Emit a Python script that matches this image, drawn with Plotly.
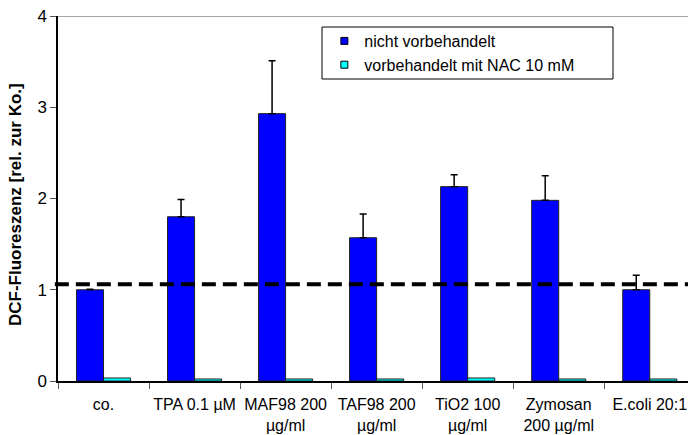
import plotly.graph_objects as go

categories = ["co.", "TPA 0.1 µM", "MAF98 200<br>µg/ml", "TAF98 200<br>µg/ml",
              "TiO2 100<br>µg/ml", "Zymosan<br>200 µg/ml", "E.coli 20:1"]
untreated = [1.0, 1.80, 2.93, 1.57, 2.13, 1.98, 1.0]
untreated_err = [0.005, 0.19, 0.58, 0.26, 0.13, 0.27, 0.16]
nac = [0.033, 0.022, 0.022, 0.022, 0.033, 0.022, 0.022]
threshold = 1.06
y_ticks = [0, 1, 2, 3, 4]
series_names = ["nicht vorbehandelt", "vorbehandelt mit NAC 10 mM"]
colors = ["#0000FF", "#00FFFF"]
y_title = "DCF-Fluoreszenz [rel. zur Ko.]"

FONT = "Liberation Sans, Arial, sans-serif"

fig = go.Figure()
fig.add_trace(go.Bar(
    x=categories, y=untreated, name=series_names[0], showlegend=False,
    marker=dict(color=colors[0], line=dict(color="#222222", width=1)),
    error_y=dict(type="data", array=untreated_err, arrayminus=[0]*len(untreated_err),
                 symmetric=False, color="black", thickness=1.5, width=3.5),
))
fig.add_trace(go.Bar(
    x=categories, y=nac, name=series_names[1], showlegend=False,
    marker=dict(color=colors[1], line=dict(color="#222222", width=1)),
))
# legend entries with small square keys
for name, c in zip(series_names, colors):
    fig.add_trace(go.Scatter(
        x=[None], y=[None], mode="markers", name=name,
        marker=dict(symbol="square", size=7, color=c, line=dict(color="black", width=1)),
    ))

fig.add_hline(y=threshold, line=dict(color="black", width=4, dash="14px,7px"))
fig.update_shapes(selector=dict(type="line"), x0=-0.005, x1=1)
# top border line of plot area
fig.add_shape(type="line", xref="paper", yref="y", x0=0, x1=1, y0=y_ticks[-1], y1=y_ticks[-1],
              line=dict(color="#888888", width=1.5))
# legend box
fig.add_shape(type="rect", xref="paper", yref="paper",
              x0=(322-58)/630, x1=(613-58)/630, y0=(381-79)/365, y1=(381-27)/365,
              line=dict(color="black", width=1), layer="above")

fig.add_annotation(text="<b>" + y_title + "</b>", textangle=-90, showarrow=False,
                   xref="paper", yref="paper", x=(15-58)/630, y=(381-205)/365,
                   xanchor="center", yanchor="middle", font=dict(size=17))

fig.update_layout(
    width=688, height=435,
    margin=dict(l=58, r=0, t=16, b=54),
    plot_bgcolor="white", paper_bgcolor="white",
    font=dict(family=FONT, size=16, color="black"),
    barmode="group", bargap=0.406, bargroupgap=0,
    showlegend=True,
    legend=dict(x=(325-58)/630 - 0.001, y=(381-24)/365, xanchor="left", yanchor="top",
                bgcolor="rgba(0,0,0,0)", borderwidth=0, font=dict(size=16),
                tracegroupgap=0),
    xaxis=dict(type="category", range=[-0.5, 6.42], tickson="boundaries",
               ticks="outside", ticklen=6, tickcolor="#555555", tickangle=0,
               showline=True, linecolor="black", linewidth=1.5, automargin=False,
               ticklabelstandoff=8, tickfont=dict(size=16), fixedrange=True),
    yaxis=dict(range=[0, 4], tickvals=y_ticks, ticks="outside", ticklen=6,
               tickcolor="#555555", showline=True, linecolor="black", linewidth=1.5,
               showgrid=False, zeroline=False, tickfont=dict(size=17), automargin=False),
)

fig.write_html("out.html")
